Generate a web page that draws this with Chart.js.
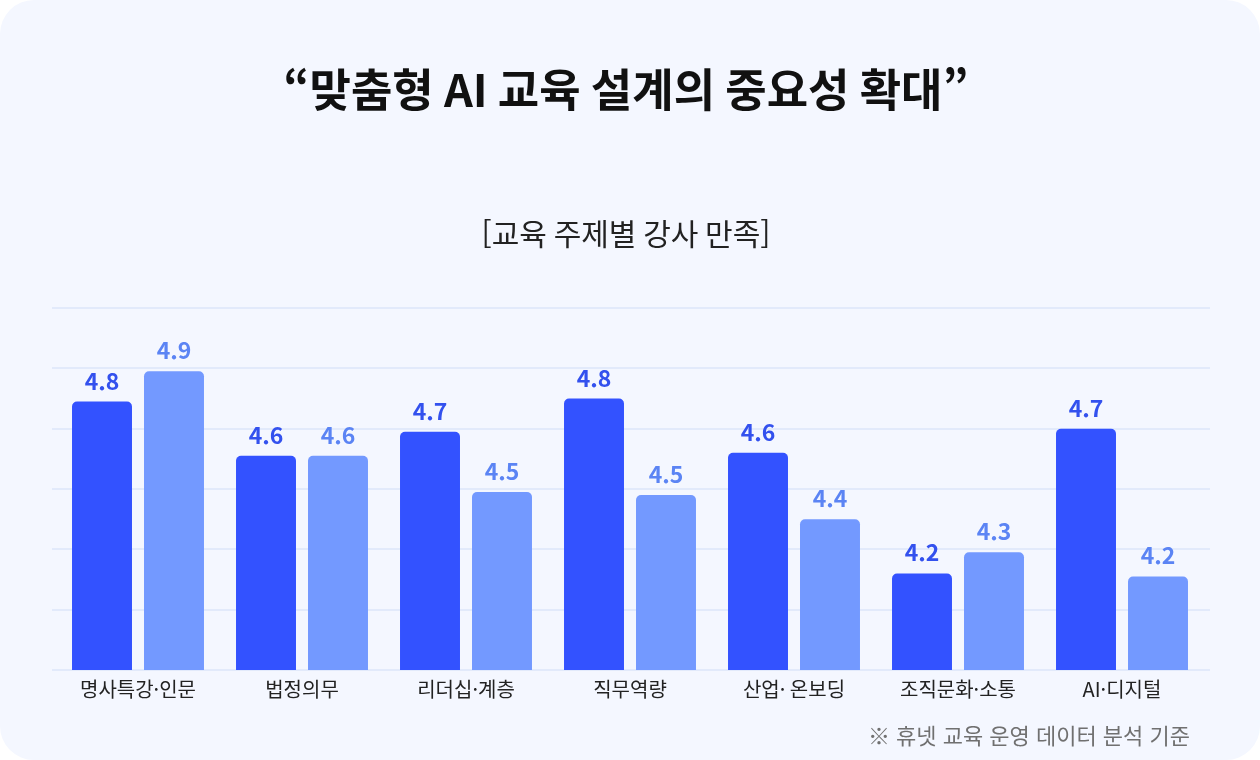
<!DOCTYPE html>
<html lang="ko">
<head>
<meta charset="utf-8">
<script src="https://cdn.jsdelivr.net/npm/chart.js@4"></script>
<style>
  html, body { margin:0; padding:0; background:#ffffff; }
  #card { position:relative; width:1260px; height:760px; background:#F4F7FF; border-radius:34px; overflow:hidden; }
  #c { position:absolute; left:0; top:0; }
  #note { position:absolute; right:70px; top:718px; font-family:"Noto Sans CJK KR","Noto Sans",sans-serif; font-size:22px; color:#707070; line-height:32px; white-space:nowrap; }
</style>
</head>
<body>
<div id="card">
  <canvas id="c" width="1260" height="760"></canvas>
  <div id="note">※ 휴넷 교육 운영 데이터 분석 기준</div>
</div>
<script>
const titleText = "“맞춤형 AI 교육 설계의 중요성 확대”";
const subtitleText = "[교육 주제별 강사 만족]";
const categories = ["명사특강·인문", "법정의무", "리더십·계층", "직무역량", "산업· 온보딩", "조직문화·소통", "AI·디지털"];
const seriesA = [4.79, 4.61, 4.69, 4.80, 4.62, 4.22, 4.70];
const seriesB = [4.89, 4.61, 4.49, 4.48, 4.40, 4.29, 4.21];
const gridValues = [3.9, 4.1, 4.3, 4.5, 4.7, 4.9, 5.1];

const FONT = '"Noto Sans CJK KR", "Noto Sans", sans-serif';

const gridLines = {
  id: 'gridLines',
  beforeDatasetsDraw(chart) {
    const ctx = chart.ctx, y = chart.scales.y, a = chart.chartArea;
    ctx.save();
    ctx.strokeStyle = '#E2EAFB';
    ctx.lineWidth = 2;
    gridValues.forEach(v => {
      const py = Math.round(y.getPixelForValue(v));
      ctx.beginPath();
      ctx.moveTo(a.left - 4, py);
      ctx.lineTo(a.right + 6, py);
      ctx.stroke();
    });
    ctx.restore();
  }
};

const valueLabels = {
  id: 'valueLabels',
  afterDatasetsDraw(chart) {
    const ctx = chart.ctx;
    const colors = ['#3351EE', '#5B84F4'];
    chart.data.datasets.forEach((ds, di) => {
      const meta = chart.getDatasetMeta(di);
      meta.data.forEach((bar, i) => {
        ctx.save();
        ctx.font = 'bold 23px ' + FONT;
        ctx.fillStyle = colors[di];
        ctx.textAlign = 'center';
        ctx.textBaseline = 'alphabetic';
        ctx.fillText(ds.data[i].toFixed(1), bar.x, bar.y - 12);
        ctx.restore();
      });
    });
  }
};

new Chart(document.getElementById('c'), {
  type: 'bar',
  data: {
    labels: categories,
    datasets: [
      { data: seriesA, backgroundColor: '#3352FF', borderRadius: {topLeft:5, topRight:5}, borderSkipped: 'bottom', categoryPercentage: 0.878, barPercentage: 0.833 },
      { data: seriesB, backgroundColor: '#7399FF', borderRadius: {topLeft:5, topRight:5}, borderSkipped: 'bottom', categoryPercentage: 0.878, barPercentage: 0.833 }
    ]
  },
  options: {
    responsive: false,
    animation: false,
    devicePixelRatio: 1,
    layout: { padding: { left: 48, right: 56, top: 0, bottom: 60 } },
    plugins: {
      legend: { display: false },
      tooltip: { enabled: false },
      title: {
        display: true, text: titleText, color: '#111111',
        font: { family: FONT, size: 45, weight: 'bold' },
        padding: { top: 63, bottom: 99 }
      },
      subtitle: {
        display: true, text: subtitleText, color: '#222222',
        font: { family: FONT, size: 30, weight: 'normal' },
        padding: { top: 0, bottom: 56 }
      }
    },
    scales: {
      x: {
        grid: { display: false },
        border: { display: false },
        ticks: { color: '#222222', font: { family: FONT, size: 20 }, padding: -1, maxRotation: 0, autoSkip: false }
      },
      y: {
        min: 3.9, max: 5.1,
        afterBuildTicks: (scale) => { scale.ticks = gridValues.map(v => ({ value: v })); },
        ticks: { display: false },
        grid: { display: false },
        border: { display: false }
      }
    }
  },
  plugins: [gridLines, valueLabels]
});
</script>
</body>
</html>
